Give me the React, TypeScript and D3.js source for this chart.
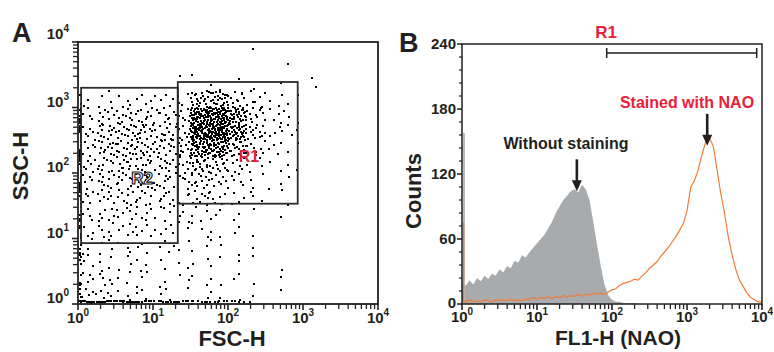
import React, { useMemo } from "react";
import * as d3 from "d3";

const W = 774, H = 352;
const FONT = "'Liberation Sans', Arial, Helvetica, sans-serif";
const INK = "#231f20";
const RED = "#e8203a";
const ORANGE = "#f47a35";
const GRAY = "#a7abae";

// ---- panel A: FSC-H vs SSC-H ----
// events per quarter-decade cell, rows from SSC 10^4 (top) down to 10^0, columns FSC 10^0 -> 10^4
const cellStep = 0.25;
const scatterCounts = [
  [0, 0, 0, 0, 0, 0, 0, 0, 0, 1, 0, 0, 0, 0, 0, 0],
  [0, 0, 0, 0, 0, 0, 0, 0, 0, 0, 0, 1, 0, 0, 0, 0],
  [0, 0, 0, 0, 0, 1, 2, 2, 1, 1, 1, 0, 2, 0, 0, 0],
  [2, 4, 4, 4, 4, 5, 20, 24, 12, 6, 3, 2, 0, 0, 0, 0],
  [5, 9, 10, 10, 9, 10, 56, 64, 34, 11, 5, 2, 0, 0, 0, 0],
  [8, 12, 14, 15, 12, 13, 62, 72, 38, 13, 4, 3, 0, 0, 0, 0],
  [8, 12, 14, 14, 12, 12, 42, 44, 20, 8, 4, 2, 0, 0, 0, 0],
  [7, 10, 12, 11, 10, 10, 20, 16, 8, 4, 2, 2, 0, 0, 0, 0],
  [6, 9, 10, 10, 9, 8, 12, 8, 5, 3, 2, 1, 0, 0, 0, 0],
  [6, 8, 8, 8, 7, 6, 9, 6, 4, 3, 1, 1, 0, 0, 0, 0],
  [5, 7, 6, 6, 5, 4, 4, 3, 2, 1, 1, 0, 0, 0, 0, 0],
  [4, 6, 5, 5, 4, 3, 3, 2, 2, 1, 0, 0, 0, 0, 0, 0],
  [3, 4, 3, 3, 3, 3, 2, 2, 1, 1, 0, 0, 0, 0, 0, 0],
  [4, 4, 3, 3, 2, 2, 2, 2, 1, 1, 1, 0, 0, 0, 0, 0],
  [5, 5, 3, 3, 2, 2, 2, 2, 2, 1, 1, 0, 0, 0, 0, 0],
  [7, 6, 4, 3, 3, 2, 2, 2, 1, 1, 1, 0, 0, 0, 0, 0],
];
// events piled on the first FSC channel, per row, and on the first SSC channel, per column
const fscFloorCounts = [0, 0, 0, 2, 8, 8, 8, 8, 7, 6, 5, 4, 3, 3, 3, 4];
const sscFloorCounts = [12, 12, 10, 8, 7, 6, 6, 6, 4, 1, 0, 0, 0, 0, 0, 0];

const gateR2 = { fsc: [1.1, 21.4], ssc: [8.5, 2000] };
const gateR1 = { fsc: [21.4, 850], ssc: [34, 2450] };

// ---- panel B: FL1-H histogram ----
const binStep = 0.05; // decades per bin, 10^0 .. 10^4
const unstainedCounts = [
  20, 17, 22, 18, 24, 21, 26, 23, 28, 26,
  32, 29, 35, 33, 40, 38, 45, 43, 48, 52,
  56, 60, 64, 70, 76, 84, 90, 96, 100, 104,
  106, 103, 110, 106, 96, 76, 55, 35, 18, 8,
  4, 2, 2, 1, 1, 1, 1, 0, 0, 0,
  0, 0, 0, 0, 0, 0, 0, 0, 0, 0,
  0, 0, 0, 0, 0, 0, 0, 0, 0, 0,
  0, 0, 0, 0, 0, 0, 0, 0, 0, 0,
  0,
];
const stainedCounts = [
  3, 2, 4, 2, 3, 2, 4, 3, 2, 4,
  3, 4, 3, 5, 3, 4, 3, 5, 4, 6,
  4, 6, 5, 7, 5, 7, 6, 8, 6, 8,
  7, 9, 7, 9, 8, 10, 9, 10, 9, 11,
  13, 14, 17, 19, 20, 21, 23, 22, 26, 29,
  33, 36, 39, 44, 48, 52, 57, 62, 68, 74,
  86, 108, 114, 124, 138, 150, 153, 146, 124, 102,
  84, 62, 46, 32, 22, 16, 10, 6, 4, 2,
  2,
];
const firstChannelUnstained = 158;
const firstChannelStained = 75;
const markerR1 = [85, 8500];
const peakUnstained = [34, 104];
const peakStained = [1860, 146];

const decades = [1, 10, 100, 1000, 10000];
const minorLog = d3.range(0, 4).flatMap((n) => d3.range(2, 10).map((k) => k * 10 ** n));
const countTicks = d3.range(0, 241, 60);
const countMinor = d3.range(0, 241, 12).filter((v) => v % 60 !== 0);

function halton(i: number, b: number) {
  let f = 1, r = 0;
  while (i > 0) {
    f /= b;
    r += f * (i % b);
    i = Math.floor(i / b);
  }
  return r;
}

const Pow = ({ x, y, e, anchor }: { x: number; y: number; e: number; anchor: string }) => (
  <text x={x} y={y} textAnchor={anchor} fontSize={15} fontWeight="bold" fill={INK}>
    10<tspan dy={-7} fontSize={10}>{e}</tspan>
  </text>
);

const Arrow = ({ x, y }: { x: number; y: number }) => (
  <g>
    <line x1={x} x2={x} y1={y - 32} y2={y - 8} stroke={INK} strokeWidth={2.6} />
    <path d={`M${x - 5},${y - 11} L${x + 5},${y - 11} L${x},${y} Z`} fill={INK} />
  </g>
);

export default function App() {
  const sxA = d3.scaleLog().domain([1, 1e4]).range([78, 378]);
  const syA = d3.scaleLog().domain([1, 1e4]).range([304, 42]);
  const sxB = d3.scaleLog().domain([1, 1e4]).range([462, 762]);
  const syB = d3.scaleLinear().domain([0, 240]).range([304, 44]);

  const dots = useMemo(() => {
    const out: [number, number][] = [];
    scatterCounts.forEach((row, r) =>
      row.forEach((n, c) => {
        for (let k = 0; k < n; k++) {
          const idx = k + 1 + (r * 16 + c) * 17;
          const lx = (c + halton(idx, 2)) * cellStep;
          const ly = 4 - (r + halton(idx, 3)) * cellStep;
          out.push([Math.round(sxA(10 ** lx)), Math.round(syA(10 ** ly))]);
        }
      })
    );
    fscFloorCounts.forEach((n, r) => {
      for (let k = 0; k < n; k++) {
        const ly = 4 - (r + halton(k + 1 + r * 11, 2)) * cellStep;
        out.push([Math.round(sxA(1)) + 2 + (k % 2), Math.round(syA(10 ** ly))]);
      }
    });
    sscFloorCounts.forEach((n, c) => {
      for (let k = 0; k < n; k++) {
        const lx = (c + halton(k + 1 + c * 11, 2)) * cellStep;
        out.push([Math.round(sxA(10 ** lx)), Math.round(syA(1)) - 2 - (k % 2)]);
      }
    });
    return out;
  }, []);

  const binX = (i: number) => sxB(10 ** (i * binStep));
  const area = d3
    .area<number>()
    .x((_, i) => binX(i))
    .y0(syB(0))
    .y1((d) => syB(d));
  const line = d3
    .line<number>()
    .x((_, i) => binX(i))
    .y((d) => syB(d));

  const gateRect = (g: { fsc: number[]; ssc: number[] }) => (
    <rect
      x={sxA(g.fsc[0])}
      y={syA(g.ssc[1])}
      width={sxA(g.fsc[1]) - sxA(g.fsc[0])}
      height={syA(g.ssc[0]) - syA(g.ssc[1])}
      fill="none"
      stroke="#2b2b2b"
      strokeWidth={1.8}
    />
  );

  return (
    <svg
      width={W}
      height={H}
      style={{ position: "absolute", left: 0, top: 0, background: "#fff" }}
      fontFamily={FONT}
    >
      {/* ---------- panel A ---------- */}
      <text x={12} y={42} fontSize={27} fontWeight="bold" fill={INK}>A</text>
      {dots.map(([x, y], i) => (
        <rect key={i} x={x - 1} y={y - 1} width={2} height={2} fill="#000" />
      ))}
      {gateRect(gateR2)}
      {gateRect(gateR1)}
      <text x={142} y={184} textAnchor="middle" fontSize={17} fontWeight="bold" fill="#fff" stroke="#111" strokeWidth={1.1}>R2</text>
      <text x={249} y={162} textAnchor="middle" fontSize={16} fontWeight="bold" fill={RED}>R1</text>
      <rect x={78} y={42} width={300} height={262} fill="none" stroke={INK} strokeWidth={1.8} />
      {minorLog.map((v) => (
        <g key={"ax" + v}>
          <line x1={sxA(v)} x2={sxA(v)} y1={304} y2={309} stroke={INK} strokeWidth={1.3} />
          <line x1={73} x2={78} y1={syA(v)} y2={syA(v)} stroke={INK} strokeWidth={1.3} />
        </g>
      ))}
      {decades.map((v, i) => (
        <g key={"ad" + v}>
          <line x1={sxA(v)} x2={sxA(v)} y1={304} y2={310} stroke={INK} strokeWidth={1.6} />
          <line x1={72} x2={78} y1={syA(v)} y2={syA(v)} stroke={INK} strokeWidth={1.6} />
          <Pow x={sxA(v)} y={323} e={i} anchor="middle" />
          <Pow x={69} y={syA(v) - (i === 4 ? 3 : 1)} e={i} anchor="end" />
        </g>
      ))}
      <text x={232} y={346} textAnchor="middle" fontSize={22} fontWeight="bold" fill={INK}>FSC-H</text>
      <text transform="translate(28,166) rotate(-90)" textAnchor="middle" fontSize={22} fontWeight="bold" fill={INK}>SSC-H</text>

      {/* ---------- panel B ---------- */}
      <text x={399} y={52} fontSize={27} fontWeight="bold" fill={INK}>B</text>
      <path d={area(unstainedCounts) ?? ""} fill={GRAY} />
      <rect x={sxB(1) + 1} y={syB(firstChannelUnstained)} width={2} height={syB(0) - syB(firstChannelUnstained)} fill="#b8bbbd" />
      <path d={line(stainedCounts) ?? ""} fill="none" stroke={ORANGE} strokeWidth={1.2} />
      <line x1={sxB(1) + 1.5} x2={sxB(1) + 1.5} y1={syB(firstChannelStained)} y2={syB(0)} stroke={ORANGE} strokeWidth={1.4} />
      <rect x={462} y={44} width={300} height={260} fill="none" stroke={INK} strokeWidth={1.5} />
      {minorLog.map((v) => (
        <line key={"bx" + v} x1={sxB(v)} x2={sxB(v)} y1={304} y2={309} stroke={INK} strokeWidth={1.3} />
      ))}
      {decades.map((v, i) => (
        <g key={"bd" + v}>
          <line x1={sxB(v)} x2={sxB(v)} y1={304} y2={310} stroke={INK} strokeWidth={1.6} />
          <Pow x={sxB(v)} y={322} e={i} anchor="middle" />
        </g>
      ))}
      {countMinor.map((v) => (
        <line key={"bm" + v} x1={459} x2={462} y1={syB(v)} y2={syB(v)} stroke={INK} strokeWidth={1.2} />
      ))}
      {countTicks.map((v) => (
        <g key={"bt" + v}>
          <line x1={457} x2={462} y1={syB(v)} y2={syB(v)} stroke={INK} strokeWidth={1.5} />
          <text x={456} y={syB(v) + (v === 0 ? 4 : 5)} textAnchor="end" fontSize={15} fontWeight="bold" fill={INK}>{v}</text>
        </g>
      ))}
      <text x={618} y={345} textAnchor="middle" fontSize={21} fontWeight="bold" fill={INK}>FL1-H (NAO)</text>
      <text transform="translate(421,191) rotate(-90)" textAnchor="middle" fontSize={22} fontWeight="bold" fill={INK}>Counts</text>

      {/* R1 marker */}
      <g stroke={INK} strokeWidth={1.5}>
        <line x1={sxB(markerR1[0])} x2={sxB(markerR1[1])} y1={53} y2={53} />
        <line x1={sxB(markerR1[0])} x2={sxB(markerR1[0])} y1={48} y2={58} />
        <line x1={sxB(markerR1[1])} x2={sxB(markerR1[1])} y1={48} y2={58} />
      </g>
      <text x={606} y={38} textAnchor="middle" fontSize={17} fontWeight="bold" fill={RED}>R1</text>

      <text x={566} y={149} textAnchor="middle" fontSize={16} fontWeight="bold" fill={INK}>Without staining</text>
      <Arrow x={sxB(peakUnstained[0])} y={syB(peakUnstained[1])} />
      <text x={687} y={108} textAnchor="middle" fontSize={16} fontWeight="bold" fill={RED}>Stained with NAO</text>
      <Arrow x={sxB(peakStained[0])} y={syB(peakStained[1])} />
    </svg>
  );
}
